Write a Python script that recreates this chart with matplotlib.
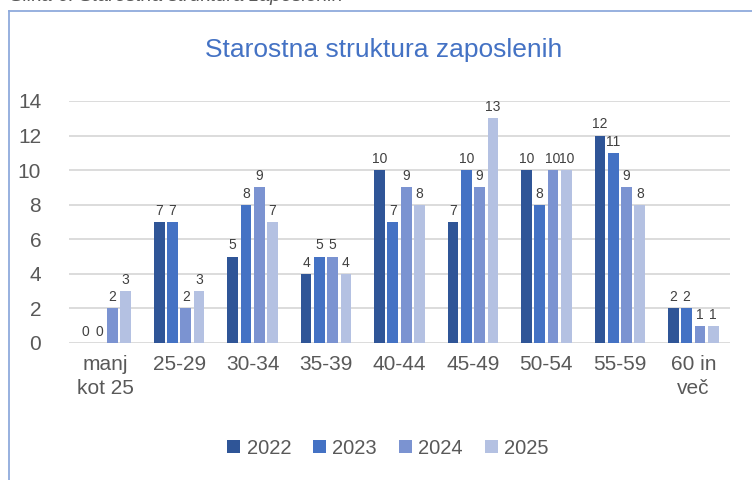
import numpy as np
import matplotlib.pyplot as plt
from matplotlib.lines import Line2D
from matplotlib.patches import Patch

# data
categories = ["manj\nkot 25", "25-29", "30-34", "35-39", "40-44", "45-49", "50-54", "55-59", "60 in\nveč"]
years = ["2022", "2023", "2024", "2025"]
v2022 = [0, 7, 5, 4, 10, 7, 10, 12, 2]
v2023 = [0, 7, 8, 5, 7, 10, 8, 11, 2]
v2024 = [2, 2, 9, 5, 9, 9, 10, 9, 1]
v2025 = [3, 3, 7, 4, 8, 13, 10, 8, 1]
series = [v2022, v2023, v2024, v2025]
colors = ["#2F5597", "#4472C4", "#7B93D1", "#B4C1E2"]

plt.rcParams['font.family'] = ['Liberation Sans', 'DejaVu Sans']
text_col = "#595959"

fig = plt.figure(figsize=(7.52, 4.8), dpi=100)
ax = fig.add_axes([69 / 752, 1 - 343 / 480, (730 - 69) / 752, (343 - 101) / 480])

x = np.arange(len(categories))
step = 0.181
width = 0.146
for i, (vals, c) in enumerate(zip(series, colors)):
    pos = x + (i - 1.5) * step
    bars = ax.bar(pos, vals, width=width, color=c, label=years[i], zorder=3)
    ax.bar_label(bars, labels=[str(v) for v in vals], padding=3, fontsize=10, color="#404040")

ax.set_xlim(-0.5, len(categories) - 0.5)
ax.set_ylim(0, 14)
ax.set_yticks(range(0, 15, 2))
ax.yaxis.grid(True, color="#D9D9D9", linewidth=1.3, zorder=0)
ax.set_axisbelow(True)
for s in ax.spines.values():
    s.set_visible(False)
ax.tick_params(axis="y", length=0, pad=20, labelsize=15, labelcolor=text_col)
ax.tick_params(axis="x", length=0, pad=9, labelsize=15, labelcolor=text_col)
ax.set_xticks(x)
ax.set_xticklabels(categories, linespacing=1.3)

# title
fig.text(384 / 752, 1 - 50 / 480, "Starostna struktura zaposlenih", ha="center", va="center",
         fontsize=19, color="#4472C4")

# legend
handles = [Patch(facecolor=c, label=y) for c, y in zip(colors, years)]
fig.legend(handles=handles, loc="center", bbox_to_anchor=(388 / 752, 1 - 448 / 480), ncol=4,
           frameon=False, fontsize=14.5, labelcolor=text_col, handlelength=0.65, handleheight=0.65,
           handletextpad=0.3, columnspacing=1.1)

# chart frame and cut caption
fig.add_artist(Line2D([9 / 752, 9 / 752], [0, 1 - 11 / 480], color="#8FAADC", linewidth=1.3))
fig.add_artist(Line2D([9 / 752, 1], [1 - 11 / 480, 1 - 11 / 480], color="#8FAADC", linewidth=1.3))
fig.text(10 / 752, 1 - 1 / 480, "Slika 6: Starostna struktura zaposlenih", ha="left", va="baseline",
         fontsize=14, style="italic", color="#595959")

plt.savefig("out.png", dpi=100)
